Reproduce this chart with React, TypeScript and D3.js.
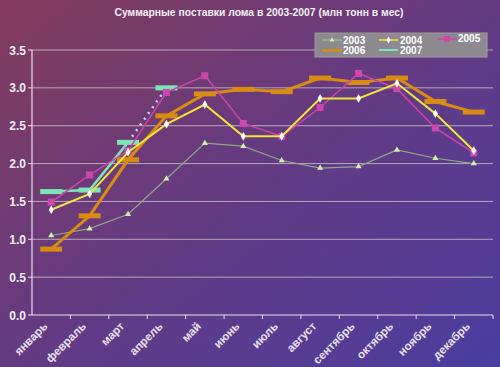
import React from 'react';
import * as d3 from 'd3';

const months = ['январь', 'февраль', 'март', 'апрель', 'май', 'июнь', 'июль', 'август', 'сентябрь', 'октябрь', 'ноябрь', 'декабрь'];
const yTicks = [0, 0.5, 1, 1.5, 2, 2.5, 3, 3.5];

const s2003 = [1.05, 1.14, 1.33, 1.8, 2.27, 2.23, 2.04, 1.94, 1.96, 2.18, 2.07, 2.0];
const s2004 = [1.39, 1.6, 2.15, 2.52, 2.78, 2.36, 2.36, 2.86, 2.86, 3.06, 2.66, 2.17];
const s2005 = [1.49, 1.85, 2.17, 2.94, 3.16, 2.53, 2.36, 2.74, 3.19, 2.99, 2.47, 2.14];
const s2006 = [0.87, 1.31, 2.05, 2.63, 2.92, 2.98, 2.95, 3.13, 3.07, 3.13, 2.82, 2.68];
const s2007 = [1.63, 1.65, 2.28, 3.0];

const W = 500;
const H = 367;

const App = () => {
  const x = d3.scaleBand().domain(months).range([32, 493]);
  const y = d3.scaleLinear().domain([0, 3.5]).range([315, 50]);
  const cx = (i) => x(months[i]) + x.bandwidth() / 2;

  const line = d3.line().x((d, i) => cx(i)).y(d => y(d));
  const solid2007 = d3.line().x((d, i) => cx(i)).y(d => y(d))(s2007.slice(0, 3));
  const dotted2007 = d3.line()([[cx(2), y(s2007[2])], [cx(3), y(s2007[3])]]);

  const bar = (v, i, color, key) => (
    <rect key={key} x={cx(i) - 11} y={y(v) - 2.5} width={22} height={5} fill={color} />
  );

  return (
    <svg width={W} height={H} style={{ position: 'absolute', left: 0, top: 0 }}>
      <defs>
        <linearGradient id='bg' x1='0' y1='0' x2='1' y2='1'>
          <stop offset='0%' stopColor='#843c5a' />
          <stop offset='45%' stopColor='#663a80' />
          <stop offset='100%' stopColor='#4a3ea0' />
        </linearGradient>
      </defs>
      <rect width={W} height={H} fill='url(#bg)' />

      <text x={259} y={16} textAnchor='middle' fill='#f4f0f4' textLength={289} lengthAdjust='spacingAndGlyphs'
        style={{ fontFamily: 'Liberation Sans, Arial', fontSize: '11.5px', fontWeight: 'bold' }}>
        Суммарные поставки лома в 2003-2007 (млн тонн в мес)
      </text>

      {yTicks.map(t => (
        <g key={t}>
          {t > 0 && <line x1={32} x2={493} y1={y(t)} y2={y(t)} stroke='#b8a8b8' strokeWidth={1} />}
          <line x1={28} x2={32} y1={y(t)} y2={y(t)} stroke='#e8e0ec' strokeWidth={1} />
          <text x={26} y={y(t) + 4.5} textAnchor='end' fill='#f4f0f4' style={{ fontFamily: 'Liberation Sans, Arial', fontSize: '12px', fontWeight: 'bold' }}>
            {t.toFixed(1)}
          </text>
        </g>
      ))}
      <line x1={32} x2={32} y1={50} y2={315} stroke='#e8e0ec' strokeWidth={1.2} />
      <line x1={32} x2={493} y1={315} y2={315} stroke='#e8e0ec' strokeWidth={1.2} />
      {months.map((m, i) => (
        <line key={m} x1={x(m) + x.bandwidth()} x2={x(m) + x.bandwidth()} y1={315} y2={319} stroke='#e8e0ec' />
      ))}
      {months.map((m, i) => (
        <text key={m} transform={`translate(${cx(i) - 3},${327}) rotate(-45)`} textAnchor='end' fill='#e8e0f0'
          style={{ fontFamily: 'Liberation Sans, Arial', fontSize: '11.5px', fontWeight: 'bold' }}>
          {m}
        </text>
      ))}

      {/* 2003 */}
      <path d={line(s2003)} fill='none' stroke='#8ea888' strokeWidth={1.2} />
      {s2003.map((v, i) => (
        <path key={i} d={d3.symbol(d3.symbolTriangle, 16)()} transform={`translate(${cx(i)},${y(v)})`} fill='#d0f0b0' />
      ))}

      {/* 2006 */}
      <path d={line(s2006)} fill='none' stroke='#d98c12' strokeWidth={3} />
      {s2006.map((v, i) => bar(v, i, '#d98c12', i))}

      {/* 2007 */}
      <path d={solid2007} fill='none' stroke='#7de6b8' strokeWidth={2.5} />
      <path d={dotted2007} fill='none' stroke='#b8e0ec' strokeWidth={2.5} strokeDasharray='2,5' />
      {s2007.map((v, i) => bar(v, i, '#7de6b8', i))}

      {/* 2005 */}
      <path d={line(s2005)} fill='none' stroke='#cc44aa' strokeWidth={1.5} />
      {s2005.map((v, i) => (
        <rect key={i} x={cx(i) - 3.5} y={y(v) - 3.5} width={7} height={7} fill='#cc48ac' />
      ))}

      {/* 2004 */}
      <path d={line(s2004)} fill='none' stroke='#f2e43c' strokeWidth={2} />
      {s2004.map((v, i) => (
        <path key={i} d={d3.symbol(d3.symbolDiamond, 22)()} transform={`translate(${cx(i)},${y(v)})`} fill='#ffffff' />
      ))}

      {/* legend */}
      <rect x={315} y={33} width={172} height={24} fill='#8c8a90' stroke='#9c9aa0' />
      <g style={{ fontFamily: 'Liberation Sans, Arial', fontSize: '10px', fontWeight: 'bold' }} fill='#ffffff'>
        <line x1={322} x2={342} y1={40} y2={40} stroke='#8ed888' strokeWidth={1} />
        <path d={d3.symbol(d3.symbolTriangle, 10)()} transform='translate(332,40)' fill='#d0f0b0' />
        <text x={343} y={44}>2003</text>
        <line x1={379} x2={398} y1={40} y2={40} stroke='#f2e43c' strokeWidth={1.5} />
        <path d={d3.symbol(d3.symbolDiamond, 14)()} transform='translate(388.5,40)' fill='#ffffff' />
        <text x={400} y={44}>2004</text>
        <line x1={437} x2={457} y1={39} y2={39} stroke='#cc44aa' strokeWidth={1.5} />
        <rect x={444} y={36} width={6} height={6} fill='#cc48ac' />
        <text x={458} y={41.5}>2005</text>
        <line x1={322} x2={342} y1={50.5} y2={50.5} stroke='#d98c12' strokeWidth={2.5} />
        <text x={343} y={54}>2006</text>
        <line x1={379} x2={398} y1={50} y2={50} stroke='#7de6b8' strokeWidth={2} />
        <text x={400} y={54}>2007</text>
      </g>
    </svg>
  );
};

export default App;
